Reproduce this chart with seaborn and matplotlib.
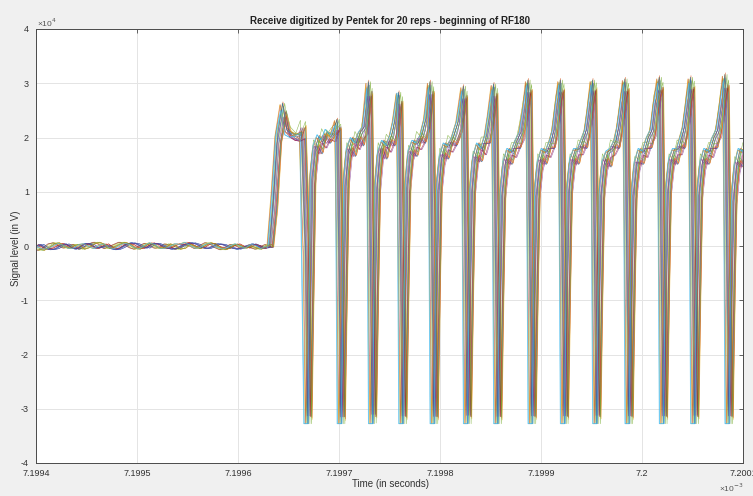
import numpy as np
import pandas as pd
import matplotlib
matplotlib.use("Agg")
import matplotlib.pyplot as plt
import seaborn as sns

# ---------------- data ----------------
T0_MS = 7.1994                      # start of window, in ms
N_REPS = 20

# baseline (pre-pulse) samples, every 5 ns from 0 to 230 ns, in ADC counts
base_t_ns = np.arange(0, 231, 5)
noise_a = [-100, 300, -400, -700, -500, 100, 400, -200, -600, -100, 500, 300,
           -400, -200, 100, -500, -700, -300, 300, 600, 400, -100, -400, 300,
           500, 100, -300, -600, -400, 100, 400, 600, 300, -300, -500, -100,
           400, 300, -100, -400, -600, -300, 100, 400, 0, -400, -300]
noise_b = [300, -300, -600, -400, 100, 500, 100, -500, -400, 300, 400, -100,
           -500, 100, 400, -300, -500, 100, 500, 300, -300, -500, 100, 600,
           300, -400, -500, -100, 400, 300, 700, 100, -400, -300, 300, 500,
           -100, -400, -500, 100, 400, -100, -400, 300, 100, -500, -100]
noise_c = [-500, -800, -300, 400, 600, 0, -400, 100, 300, -600, -300, 400,
           700, 300, -500, -100, 300, 700, 400, -300, -600, 0, 500, 100,
           -400, -300, 400, 100, -600, -400, 300, 0, -500, 100, 600, 400,
           -300, -700, -300, 300, 100, -400, 0, -300, -600, -100, 300]

# RF pulse samples (ns after window start)
pulse_t_ns = (
    [232, 236, 240, 245, 249, 254, 259, 264, 268, 270, 272]
    + [274, 277, 281, 285, 289, 294, 299, 301, 303, 305]
    + [307, 310, 314, 318, 322, 326, 330, 332, 334, 336]
    + [338, 341, 345, 349, 353, 356, 360, 362, 364, 366]
    + [368, 371, 375, 379, 383, 387, 391, 393, 395, 397]
    + [399, 402, 406, 410, 414, 419, 424, 426, 428, 430]
    + [432, 435, 439, 443, 447, 450, 454, 456, 458, 460]
    + [462, 465, 469, 473, 477, 481, 485, 488, 490, 492, 494]
    + [496, 499, 503, 507, 511, 514, 517, 520, 522, 524, 526]
    + [528, 531, 535, 539, 543, 546, 549, 552, 554, 556, 558]
    + [560, 563, 567, 571, 575, 578, 581, 584, 586, 588, 590]
    + [592, 595, 599, 603, 607, 611, 614, 618, 620, 622, 624]
    + [626, 629, 633, 637, 640, 643, 646, 649, 651, 653, 655]
    + [657, 660, 664, 668, 672, 676, 680, 683, 685, 687, 689]
    + [691, 694, 698, 702]
)
pulse_a = (
    [-300, 9000, 20000, 25800, 21000, 20300, 20100, 20600, -2000, -32800, -11000]
    + [12000, 17500, 19800, 18800, 20500, 20000, 22900, -2000, -32800, -11000]
    + [11000, 17000, 19500, 18500, 20500, 21500, 29700, -2000, -32800, -11000]
    + [10000, 16500, 19000, 18000, 20000, 22500, 27800, -2000, -32800, -11000]
    + [10500, 16500, 19000, 18500, 20000, 23000, 29700, -2000, -32800, -11000]
    + [10000, 15500, 18500, 18000, 19500, 22500, 28900, -2000, -32800, -11000]
    + [9500, 15500, 18500, 17500, 20000, 23500, 29300, -2000, -32800, -11000]
    + [9000, 14500, 17500, 17000, 19000, 20500, 25000, 30000, -2000, -32800, -11000]
    + [9000, 14500, 17500, 17000, 19000, 21000, 25500, 30000, -2000, -32800, -11000]
    + [9500, 15000, 17500, 17500, 19500, 21000, 25000, 30000, -2000, -32800, -11000]
    + [9000, 14500, 17000, 17500, 19000, 21500, 25500, 30200, -2000, -32800, -11000]
    + [9000, 14500, 17500, 17000, 19500, 21000, 25500, 30500, -2000, -32800, -11000]
    + [9500, 15000, 17500, 17500, 19500, 21500, 25500, 30500, -2000, -32800, -11000]
    + [9000, 14500, 17500, 17000, 19500, 21000, 26000, 31000, -2000, -32800, -11000]
    + [8000, 14000, 17500, 17000]
)
pulse_b = (
    [-200, 7000, 19500, 24500, 21500, 20500, 20000, 22500, 0, -32300, -8000]
    + [14000, 19000, 17500, 21000, 19500, 21000, 22000, 0, -32500, -8000]
    + [13500, 18500, 17000, 20500, 19000, 23000, 28500, 0, -32000, -8000]
    + [12500, 18500, 16500, 20000, 19000, 21000, 27000, 0, -32300, -8000]
    + [12000, 18000, 17000, 20500, 19500, 22000, 28800, 0, -32400, -8000]
    + [12000, 17500, 16500, 19800, 19000, 21500, 28000, 0, -32200, -8000]
    + [11500, 17000, 16000, 19500, 19500, 22500, 28500, 0, -32400, -8000]
    + [11000, 16500, 15500, 18500, 18500, 22000, 26500, 29200, 0, -32300, -8000]
    + [11000, 16500, 15500, 18500, 18500, 22500, 27000, 29300, 0, -32300, -8000]
    + [11500, 16500, 15500, 19000, 18500, 22000, 26500, 29500, 0, -32200, -8000]
    + [11000, 16500, 15000, 19000, 18500, 22500, 27000, 29400, 0, -32300, -8000]
    + [11000, 16000, 15500, 18500, 18500, 22000, 27000, 29600, 0, -32300, -8000]
    + [11500, 16500, 15500, 19000, 18500, 22500, 27000, 29800, 0, -32200, -8000]
    + [11000, 16500, 15500, 18500, 18500, 22000, 27500, 30000, 0, -32300, -8000]
    + [10500, 16000, 15000, 18500]
)
pulse_c = (
    [-300, 8500, 20500, 25000, 20500, 20000, 20300, 20800, -32768, -32768, -32768]
    + [13000, 18500, 20500, 19500, 21500, 20500, 22300, -32768, -32768, -32768]
    + [12000, 18000, 20000, 19000, 21000, 22000, 29000, -32768, -32768, -32768]
    + [11000, 17500, 19500, 18500, 20500, 23000, 28200, -32768, -32768, -32768]
    + [11500, 17500, 19500, 19000, 20500, 23500, 29200, -32768, -32768, -32768]
    + [11000, 16500, 19000, 18500, 20000, 23000, 28500, -32768, -32768, -32768]
    + [10500, 16500, 19000, 18000, 20500, 24000, 28800, -32768, -32768, -32768]
    + [10000, 15500, 18000, 17500, 19500, 21000, 25500, 29600, -32768, -32768, -32768]
    + [10000, 15500, 18000, 17500, 19500, 21500, 26000, 29700, -32768, -32768, -32768]
    + [10500, 16000, 18000, 18000, 20000, 21500, 25500, 29700, -32768, -32768, -32768]
    + [10000, 15500, 17500, 18000, 19500, 22000, 26000, 29800, -32768, -32768, -32768]
    + [10000, 15500, 18000, 17500, 20000, 21500, 26000, 30000, -32768, -32768, -32768]
    + [10500, 16000, 18000, 18000, 20000, 22000, 26000, 30000, -32768, -32768, -32768]
    + [10000, 15500, 18000, 17500, 20000, 21500, 26500, 30500, -32768, -32768, -32768]
    + [9000, 15000, 18000, 17500]
)
assert len(pulse_t_ns) == len(pulse_a) == len(pulse_b) == len(pulse_c)

# per-repetition trigger jitter (ns), gain and waveform variant
rep_shift_ns = [0.0, 1.8, -1.2, 3.0, -2.2, -3.0, -3.2, 2.5, -0.5, 3.5,
                -1.5, 1.2, -2.4, 2.0, -0.9, 3.2, -3.6, 0.4, 2.8, -2.6]
rep_gain = [1.00, 0.97, 1.02, 0.96, 1.03, 1.00, 1.01, 0.97, 1.03, 0.99,
            0.97, 1.02, 1.00, 0.96, 1.02, 0.98, 1.01, 0.97, 1.02, 1.00]
rep_variant = ["A", "B", "A", "A", "B", "C", "A", "B", "A", "B",
               "B", "A", "C", "A", "A", "B", "A", "B", "B", "C"]
rep_noise = ["a", "b", "c", "a", "c", "b", "c", "a", "b", "c",
             "a", "c", "b", "b", "a", "c", "b", "a", "c", "b"]

pulses = {"A": pulse_a, "B": pulse_b, "C": pulse_c}
noises = {"a": noise_a, "b": noise_b, "c": noise_c}

matlab_colors = ["#0072BD", "#D95319", "#EDB120", "#7E2F8E",
                 "#77AC30", "#4DBEEE", "#A2142F"]

# ---------------- build long table ----------------
t_ns_all = np.concatenate([base_t_ns, np.array(pulse_t_ns, dtype=float)])
rows = []
for r in range(N_REPS):
    vals = np.concatenate([np.array(noises[rep_noise[r]], float),
                           np.array(pulses[rep_variant[r]], float)]) * rep_gain[r]
    vals = np.clip(vals, -32768, 32767)
    t_ms = T0_MS + (t_ns_all + rep_shift_ns[r]) * 1e-6
    rows.append(pd.DataFrame({"t": t_ms, "v": vals / 1e4, "rep": r}))
df = pd.concat(rows, ignore_index=True)

palette = {r: matlab_colors[r % 7] for r in range(N_REPS)}

# ---------------- figure ----------------
sns.set_style("white")
plt.rcParams["font.family"] = ["Liberation Sans", "DejaVu Sans"]
TXT = "#333333"

W, H = 753, 496
fig = plt.figure(figsize=(W / 100, H / 100), dpi=100, facecolor="#f0f0f0")
ax = fig.add_axes([36 / W, 1 - 463 / H, 707 / W, 434 / H])
ax.set_facecolor("white")

sns.lineplot(data=df, x="t", y="v", hue="rep", palette=palette,
             estimator=None, sort=False, legend=False, linewidth=0.4,
             alpha=0.8, ax=ax)

xt = [7.1994, 7.1995, 7.1996, 7.1997, 7.1998, 7.1999, 7.2000, 7.2001]
xl = ["7.1994", "7.1995", "7.1996", "7.1997", "7.1998", "7.1999", "7.2", "7.2001"]
yt = [-4, -3, -2, -1, 0, 1, 2, 3, 4]
yl = ["-4", "-3", "-2", "-1", "0", "1", "2", "3", "4"]

ax.set_xlim(7.1994, 7.2001)
ax.set_ylim(-4, 4)
ax.set_xticks(xt)
ax.set_xticklabels(xl)
ax.set_yticks(yt)
ax.set_yticklabels(yl)
ax.set_xlabel("")
ax.set_ylabel("")

ax.grid(True, color="#e4e4e4", linewidth=0.7)
ax.set_axisbelow(True)
for s in ax.spines.values():
    s.set_color("#4a4a4a")
    s.set_linewidth(0.7)
ax.tick_params(direction="in", length=3, width=0.6, color="#4a4a4a",
               top=True, right=True, labelsize=6.5, labelcolor=TXT)
ax.tick_params(axis="x", pad=4.5)
ax.tick_params(axis="y", pad=5)

fig.text(389.5 / W, 1 - 21 / H,
         "Receive digitized by Pentek for 20 reps - beginning of RF180",
         ha="center", va="center", fontsize=7, fontweight="bold", color="#222222")
fig.text(390 / W, 1 - 484 / H, "Time (in seconds)", ha="center", va="center",
         fontsize=7, color=TXT)
fig.text(16 / W, 1 - 248 / H, "Signal level (in V)", ha="center", va="center",
         rotation=90, fontsize=7, color=TXT)
fig.text(37 / W, 1 - 23 / H, "×10$^{4}$", ha="left", va="center",
         fontsize=6, color="#555555")
fig.text(719 / W, 1 - 488 / H, "×10$^{-3}$", ha="left", va="center",
         fontsize=6, color="#555555")

fig.savefig("out.png", dpi=100, facecolor=fig.get_facecolor())
